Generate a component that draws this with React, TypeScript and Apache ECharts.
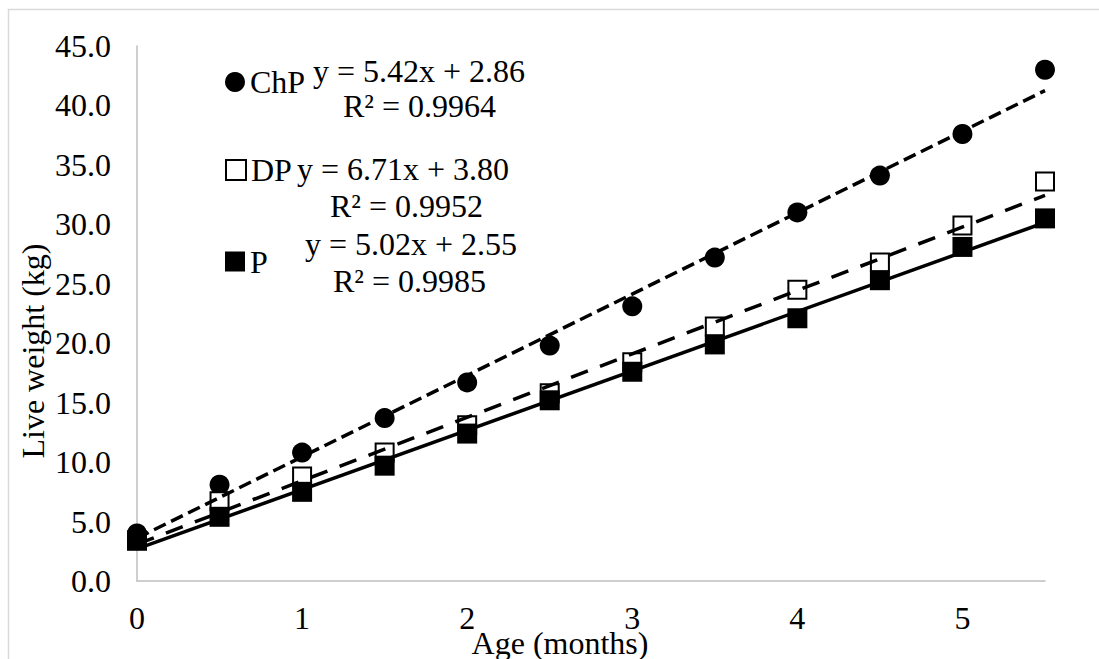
import React, { useEffect, useRef } from "react";
import * as echarts from "echarts";

const months = [0, 0.5, 1, 1.5, 2, 2.5, 3, 3.5, 4, 4.5, 5, 5.5];
const chpWeight = [4.0, 8.1, 10.8, 13.7, 16.7, 19.8, 23.1, 27.2, 31.0, 34.1, 37.6, 43.0];
const dpWeight = [3.4, 6.7, 8.8, 10.8, 13.1, 15.8, 18.4, 21.4, 24.5, 26.8, 29.9, 33.6];
const pWeight = [3.4, 5.4, 7.5, 9.7, 12.4, 15.2, 17.6, 19.9, 22.1, 25.3, 28.1, 30.5];

const seriesNames = ["ChP", "DP", "P"];
const equationTexts = ["y = 5.42x + 2.86", "y = 6.71x + 3.80", "y = 5.02x + 2.55"];
const r2Texts = ["R² = 0.9964", "R² = 0.9952", "R² = 0.9985"];

const FONT = "Liberation Serif";

function linearFit(xs: number[], ys: number[]) {
  const n = xs.length;
  const mx = xs.reduce((a, b) => a + b, 0) / n;
  const my = ys.reduce((a, b) => a + b, 0) / n;
  let sxy = 0;
  let sxx = 0;
  for (let i = 0; i < n; i++) {
    sxy += (xs[i] - mx) * (ys[i] - my);
    sxx += (xs[i] - mx) * (xs[i] - mx);
  }
  const slope = sxy / sxx;
  return { slope, intercept: my - slope * mx };
}

function trend(ys: number[]) {
  const { slope, intercept } = linearFit(months, ys);
  const x0 = months[0];
  const x1 = months[months.length - 1];
  return [
    [x0, intercept + slope * x0],
    [x1, intercept + slope * x1],
  ];
}

export default function App() {
  const ref = useRef<HTMLDivElement>(null);

  useEffect(() => {
    if (!ref.current) return;
    const chart = echarts.init(ref.current, undefined, { renderer: "svg" });
    const pts = (ys: number[]) => months.map((m, i) => [m, ys[i]]);

    const legendTops = [66, 154, 245.5];
    const eqPos = [
      { x: 313, y: 71 },
      { x: 297, y: 169 },
      { x: 305, y: 244 },
    ];
    const r2Pos = [
      { x: 343, y: 106 },
      { x: 330, y: 206 },
      { x: 333, y: 281 },
    ];
    const textStyle = { font: "32px " + FONT, fill: "#000" };

    const option: any = {
      animation: false,
      backgroundColor: "#fff",
      textStyle: { fontFamily: FONT },
      grid: { left: 137, right: 54, top: 46, bottom: 78, containLabel: false },
      xAxis: {
        type: "value",
        min: 0,
        max: 5.5,
        interval: 1,
        axisLine: { show: true, lineStyle: { color: "#bfbfbf", width: 1.5 } },
        axisTick: { show: false },
        splitLine: { show: false },
        axisLabel: {
          margin: 21,
          fontFamily: FONT,
          fontSize: 32,
          color: "#000",
          formatter: (v: number) => (Number.isInteger(v) ? String(v) : ""),
        },
      },
      yAxis: {
        type: "value",
        min: 0,
        max: 45,
        interval: 5,
        axisLine: { show: true, lineStyle: { color: "#bfbfbf", width: 1.5 } },
        axisTick: { show: false },
        splitLine: { show: false },
        axisLabel: {
          margin: 26,
          fontFamily: FONT,
          fontSize: 32,
          color: "#000",
          formatter: (v: number) => v.toFixed(1),
        },
      },
      legend: seriesNames.map((name, i) => ({
        data: [name],
        orient: "vertical",
        left: 225,
        top: legendTops[i],
        padding: 0,
        itemWidth: 20,
        itemHeight: 20,
        selectedMode: false,
        textStyle: { fontFamily: FONT, fontSize: 32, color: "#000" },
      })),
      graphic: [
        {
          type: "rect",
          silent: true,
          shape: { x: 8.5, y: 9.5, width: 1200, height: 800 },
          style: { fill: "none", stroke: "#d9d9d9", lineWidth: 1.5 },
        },
        ...equationTexts.map((t, i) => ({
          type: "text",
          x: eqPos[i].x,
          y: eqPos[i].y,
          style: { ...textStyle, text: t, align: "left", verticalAlign: "middle" },
        })),
        ...r2Texts.map((t, i) => ({
          type: "text",
          x: r2Pos[i].x,
          y: r2Pos[i].y,
          style: { ...textStyle, text: t, align: "left", verticalAlign: "middle" },
        })),
        {
          type: "text",
          x: 560,
          y: 643,
          style: { ...textStyle, text: "Age (months)", align: "center", verticalAlign: "middle" },
        },
        {
          type: "text",
          x: 33,
          y: 351,
          rotation: Math.PI / 2,
          style: {
            ...textStyle,
            font: "32px " + FONT,
            text: "Live weight (kg)",
            align: "center",
            verticalAlign: "middle",
          },
        },
      ],
      series: [
        {
          name: "ChP",
          type: "scatter",
          symbol: "circle",
          symbolSize: 20,
          itemStyle: { color: "#000", opacity: 1 },
          data: pts(chpWeight),
          z: 2,
        },
        {
          name: "DP",
          type: "scatter",
          symbol: "rect",
          symbolSize: 18,
          itemStyle: { color: "#fff", borderColor: "#000", borderWidth: 2, opacity: 1 },
          data: pts(dpWeight),
          z: 3,
        },
        {
          name: "P",
          type: "scatter",
          symbol: "rect",
          symbolSize: 20,
          itemStyle: { color: "#000", opacity: 1 },
          data: pts(pWeight),
          z: 4,
        },
        {
          name: "ChP trend",
          type: "line",
          showSymbol: false,
          symbol: "none",
          data: trend(chpWeight),
          lineStyle: { color: "#000", width: 3.5, type: [13, 6] },
          z: 5,
          silent: true,
        },
        {
          name: "DP trend",
          type: "line",
          showSymbol: false,
          symbol: "none",
          data: trend(dpWeight),
          lineStyle: { color: "#000", width: 3.5, type: [18, 13] },
          z: 5,
          silent: true,
        },
        {
          name: "P trend",
          type: "line",
          showSymbol: false,
          symbol: "none",
          data: trend(pWeight),
          lineStyle: { color: "#000", width: 3.5, type: "solid" },
          z: 5,
          silent: true,
        },
      ],
    };

    chart.setOption(option);
    return () => chart.dispose();
  }, []);

  return (
    <div
      ref={ref}
      style={{ position: "absolute", left: 0, top: 0, width: 1099, height: 659 }}
    />
  );
}
